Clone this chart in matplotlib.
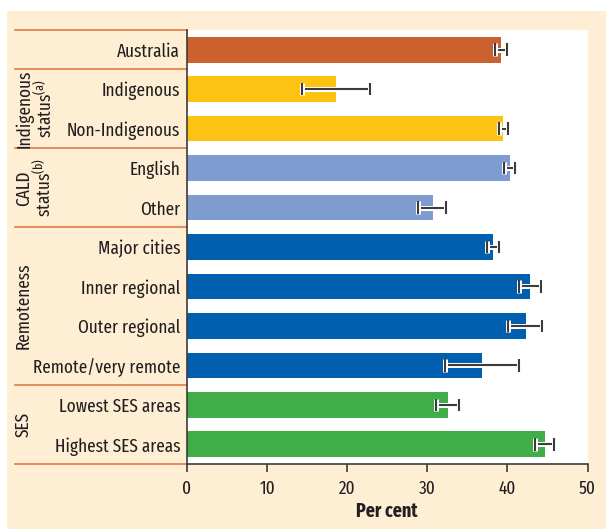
import matplotlib
matplotlib.use("Agg")
import matplotlib.pyplot as plt
import matplotlib.patheffects as pe
from matplotlib.patches import Rectangle
import numpy as np

FONT = 'Fira Sans Extra Condensed'
plt.rcParams['font.family'] = [FONT, 'DejaVu Sans']
plt.rcParams['mathtext.fontset'] = 'custom'
plt.rcParams['mathtext.rm'] = FONT

# data
labels = ["Australia", "Indigenous", "Non-Indigenous", "English", "Other",
          "Major cities", "Inner regional", "Outer regional", "Remote/very remote",
          "Lowest SES areas", "Highest SES areas"]
values = [39.2, 18.6, 39.5, 40.3, 30.7, 38.2, 42.8, 42.3, 36.8, 32.6, 44.7]
ci_low = [38.5, 14.3, 38.9, 39.6, 28.9, 37.4, 41.4, 40.1, 32.2, 31.1, 43.4]
ci_high = [39.9, 22.9, 40.1, 41.0, 32.3, 38.9, 44.2, 44.3, 41.4, 34.0, 45.8]
groups = ["Australia", "Indigenous", "Indigenous", "CALD", "CALD",
          "Remoteness", "Remoteness", "Remoteness", "Remoteness", "SES", "SES"]
group_colors = {"Australia": "#CC6130", "Indigenous": "#FDC312",
                "CALD": "#7F9CD0", "Remoteness": "#0060AF", "SES": "#41AD49"}
group_titles = [("Indigenous\nstatus$^{\\mathrm{(a)}}$", 1, 2),
                ("CALD\nstatus$^{\\mathrm{(b)}}$", 3, 4),
                ("Remoteness", 5, 8),
                ("SES", 9, 10)]
separators = [-0.5, 0.5, 2.5, 4.5, 8.5, 10.5]

cream = "#FEEFD4"
sep_color = "#E07A45"
txt = "#231F20"
axc = "#3C3C3C"
fs = 13.5

W, H = 606, 529
fig = plt.figure(figsize=(W / 100, H / 100), dpi=100)
fig.patch.set_facecolor("white")
fig.patches.append(Rectangle((7 / W, 0), 1, (H - 11) / H, transform=fig.transFigure,
                             facecolor=cream, edgecolor="none", zorder=-10))

ax = fig.add_axes([187 / W, 1 - 464 / H, (587.5 - 187) / W, (464 - 30) / H])
ax.set_facecolor("white")

y = np.arange(len(labels))
colors = [group_colors[g] for g in groups]
ax.barh(y, values, height=0.65, color=colors, zorder=2)

v = np.array(values)
err = [v - np.array(ci_low), np.array(ci_high) - v]
eb = ax.errorbar(v, y, xerr=err, fmt="none", ecolor=axc, elinewidth=1.5,
                 capsize=4.5, capthick=1.5, zorder=3)
stroke = [pe.withStroke(linewidth=3.6, foreground="white")]
for c in eb[2]:
    c.set_path_effects(stroke)
for c in eb[1]:
    c.set_path_effects(stroke)

ax.set_xlim(0, 50)
ax.set_ylim(10.5, -0.5)
ax.set_xticks([0, 10, 20, 30, 40, 50])
ax.set_yticks(y)
ax.set_yticklabels(labels)
ax.tick_params(axis="y", length=0, pad=5, labelsize=fs, labelcolor=txt)
ax.tick_params(axis="x", length=5.5, width=1.2, color=axc, pad=6,
               labelsize=fs, labelcolor=txt)
for s in ["top", "right"]:
    ax.spines[s].set_visible(False)
for s in ["left", "bottom"]:
    ax.spines[s].set_color(axc)
    ax.spines[s].set_linewidth(1.2)
ax.set_xlabel("Per cent", fontsize=fs + 0.5, fontweight="bold", color=txt, labelpad=3)

# group separators and titles in the label panel
x0 = -(187 - 15) / (587.5 - 187)
trans = ax.get_yaxis_transform()
for s in separators:
    ax.plot([x0, 0], [s, s], color=sep_color, lw=1.2, transform=trans, clip_on=False)

xt = -(187 - 15) / (587.5 - 187)
for title, a, b in group_titles:
    ax.text(xt, (a + b) / 2, title, transform=trans, rotation=90, ha="left",
            va="center", multialignment="center", fontsize=fs, color=txt,
            linespacing=0.95)

fig.savefig("out.png", dpi=100, facecolor=fig.get_facecolor())
